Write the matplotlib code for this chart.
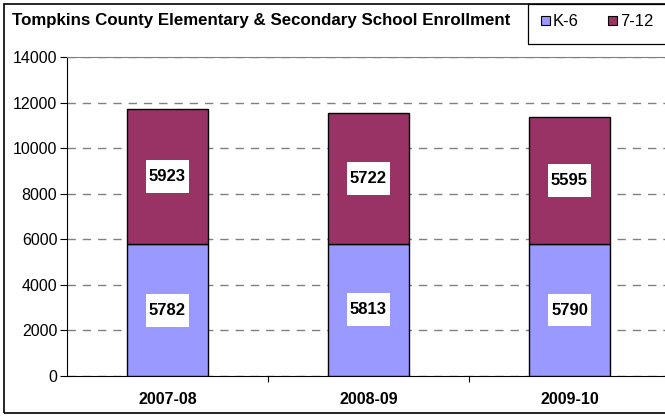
import matplotlib.pyplot as plt
import matplotlib.patches as mpatches

plt.rcParams['font.family'] = ['Liberation Sans', 'DejaVu Sans']

years = ["2007-08", "2008-09", "2009-10"]
k6 = [5782, 5813, 5790]
g712 = [5923, 5722, 5595]
title = "Tompkins County Elementary & Secondary School Enrollment"

fig = plt.figure(figsize=(6.65, 4.18), dpi=100)
W, H = 665, 418

# pixel coords -> figure fraction
def px(x, y):
    return x / W, 1 - y / H

# outer chart border and legend box (chart runs off the right edge)
border = mpatches.Rectangle(px(4, 413), 700 / W, 409 / H, transform=fig.transFigure,
                            fill=False, edgecolor='black', linewidth=1.2)
fig.patches.append(border)
legbox = mpatches.Rectangle(px(528, 44), 200 / W, 40 / H, transform=fig.transFigure,
                            fill=False, edgecolor='black', linewidth=0.9)
fig.patches.append(legbox)

fig.text(12 / W, 1 - 21 / H, title, fontsize=12.2, fontweight='bold', va='center', ha='left')

# legend entries
for xs, lab, col in [(541, "K-6", '#9999FF'), (608, "7-12", '#993366')]:
    sq = mpatches.Rectangle(px(xs, 25), 9 / W, 9 / H, transform=fig.transFigure,
                            facecolor=col, edgecolor='black', linewidth=0.8)
    fig.patches.append(sq)
    fig.text((xs + 12) / W, 1 - 21 / H, lab, fontsize=12, va='center', ha='left')

# plot area
ax = fig.add_axes([67 / W, 1 - 376 / H, 603 / W, 319 / H])
x = range(len(years))
ax.bar(x, k6, width=0.4, color='#9999FF', edgecolor='black', linewidth=1, zorder=3)
ax.bar(x, g712, width=0.4, bottom=k6, color='#993366', edgecolor='black', linewidth=1, zorder=3)

# white label boxes (size in data units ~ 43 x 33 px)
bw, bh = 0.214, 1440
for i in x:
    for v, yc in [(k6[i], k6[i] / 2), (g712[i], k6[i] + g712[i] / 2)]:
        ax.add_patch(mpatches.Rectangle((i - bw / 2, yc - bh / 2), bw, bh,
                                        facecolor='white', edgecolor='none', zorder=4))
        ax.text(i, yc, str(v), ha='center', va='center', fontsize=12, fontweight='bold', zorder=5)

ax.set_xlim(-0.5, 2.5)
ax.set_ylim(0, 14000)
ax.set_yticks(range(0, 14001, 2000))
ax.set_xticks([0.5, 1.5])
ax.set_xticklabels([])
ax.tick_params(axis='x', length=4, direction='out', color='black')
ax.tick_params(axis='y', length=5, direction='out', labelsize=11.5, pad=2)
for i, yr in enumerate(years):
    ax.text(i, -1050, yr, ha='center', va='center', fontsize=11.5, fontweight='bold')

ax.yaxis.grid(True, linestyle=(0, (6, 5)), color='#808080', linewidth=1, zorder=0)
ax.spines['top'].set_color('#808080')
ax.spines['right'].set_visible(False)
ax.spines['left'].set_color('black')
ax.spines['bottom'].set_color('black')

fig.savefig("out.png", dpi=100)
